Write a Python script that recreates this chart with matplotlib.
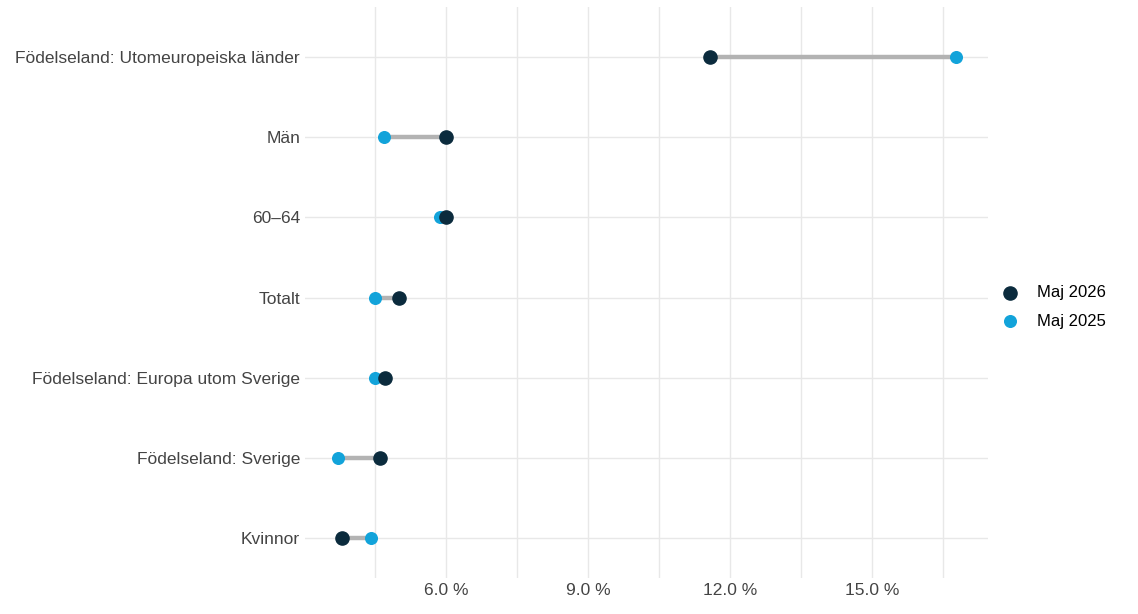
import matplotlib
matplotlib.use("Agg")
import matplotlib.pyplot as plt
from matplotlib.ticker import FixedLocator, FuncFormatter

plt.rcParams["font.family"] = ["Liberation Sans", "DejaVu Sans"]

DARK = "#0B2B3D"
LIGHT = "#12A3DA"
SEG = "#B3B3B3"
GRID = "#E8E8E8"

categories = ["Kvinnor", "Födelseland: Sverige", "Födelseland: Europa utom Sverige",
              "Totalt", "60–64", "Män", "Födelseland: Utomeuropeiska länder"]
maj_2026 = [3.80, 4.61, 4.71, 5.01, 6.00, 6.00, 11.58]
maj_2025 = [4.42, 3.72, 4.50, 4.50, 5.87, 4.69, 16.78]

fig = plt.figure(figsize=(11.38, 6.14), dpi=100)
ax = fig.add_axes([0.268, 0.058, 0.600, 0.93])

y = range(len(categories))
ax.hlines(y, maj_2026, maj_2025, color=SEG, linewidth=3.2, zorder=2)
ax.scatter(maj_2025, y, s=70, color=LIGHT, zorder=3, label="Maj 2025")
ax.scatter(maj_2026, y, s=90, color=DARK, zorder=4, label="Maj 2026")

ax.set_xlim(3.02, 17.45)
ax.set_ylim(-0.5, len(categories) - 0.38)
ax.set_yticks(list(y))
ax.set_yticklabels(categories, fontsize=12.5, color="#444444")
ax.xaxis.set_major_locator(FixedLocator([6, 9, 12, 15]))
ax.xaxis.set_minor_locator(FixedLocator([4.5, 7.5, 10.5, 13.5, 16.5]))
ax.xaxis.set_major_formatter(FuncFormatter(lambda v, p: f"{v:.1f} %"))
ax.tick_params(axis="x", labelsize=12.5, colors="#444444", length=0, which="both")
ax.tick_params(axis="y", length=0)
ax.grid(which="both", color=GRID, linewidth=1, zorder=0)
ax.set_axisbelow(True)
for s in ax.spines.values():
    s.set_visible(False)

h, l = ax.get_legend_handles_labels()
fig.legend([h[1], h[0]], [l[1], l[0]], loc="center left", bbox_to_anchor=(0.86, 0.5),
           frameon=False, fontsize=12, handletextpad=0.6, labelspacing=0.8)

fig.savefig("out.png", dpi=100)
